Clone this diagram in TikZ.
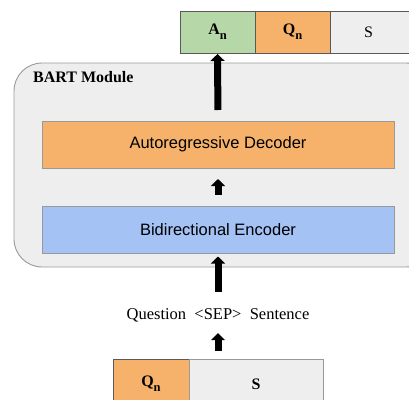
\documentclass[tikz,border=0pt]{standalone}
\usepackage{fontspec}
\setmainfont{Liberation Serif}
\newfontfamily\arialf{Liberation Sans}
\usetikzlibrary{arrows.meta}
\definecolor{cgreen}{HTML}{B6D7A8}
\definecolor{corange}{HTML}{F6B26B}
\definecolor{cgray}{HTML}{EEEEEE}
\definecolor{cblue}{HTML}{A4C2F4}
\definecolor{cdark}{HTML}{595959}
\definecolor{cmid}{HTML}{999999}
\newcommand{\subn}{\raisebox{-5pt}{\fontsize{12.5}{14}\selectfont n}}
\begin{document}
\begin{tikzpicture}[x=1pt,y=-1pt,
  cell/.style={draw=cdark, line width=0.9pt, rectangle, inner sep=0pt, outer sep=0pt, anchor=north west, font=\fontsize{16}{18}\selectfont\bfseries},
  module/.style={draw=cmid, line width=0.9pt, fill=cgray, rounded corners=28pt, rectangle, inner sep=0pt, outer sep=0pt, anchor=north west, minimum width=420pt, minimum height=204pt},
  layer/.style={draw=cmid, line width=0.9pt, rectangle, inner sep=0pt, outer sep=0pt, minimum width=352pt, minimum height=47pt, font=\arialf\fontsize{16.5}{18}\selectfont},
  bigarrow/.style={line width=7pt, -{Triangle[width=14pt,length=7pt]}}
]
\useasboundingbox (0,0) rectangle (409,399);
% top output boxes
\node[cell, fill=cgreen, minimum width=75pt, minimum height=42pt] (An) at (180,11) {A\subn};
\node[cell, fill=corange, minimum width=75pt, minimum height=42pt] (Qt) at (255,11) {Q\subn};
\node[cell, fill=cgray, minimum width=80pt, minimum height=42pt, font=\fontsize{16}{18}\selectfont] (St) at (330,11) {\hspace*{-1pt}S\hspace*{2pt}};
% module
\node[module] (mod) at (14,63) {};
\node[anchor=base west, inner sep=0pt, font=\fontsize{16}{18}\selectfont\bfseries] (title) at (33,82.5) {BART Module};
\node[layer, fill=corange] (dec) at (218,144.5) {Autoregressive Decoder};
\node[layer, fill=cblue] (enc) at (218,230) {Bidirectional Encoder};
% input text
\node[anchor=base, inner sep=0pt, text height=11pt, text depth=3.5pt, font=\fontsize{16.5}{18}\selectfont] (q) at (218,319) {Question\ \ {<}SEP{>}\ \ Sentence};
% bottom input boxes
\node[cell, fill=corange, minimum width=76pt, minimum height=50pt] (Qb) at (113,359) {\raisebox{-3pt}{Q\subn}};
\node[cell, draw=cmid, fill=cgray, minimum width=134pt, minimum height=50pt] (Sb) at (189,359) {\raisebox{-3pt}{S}};
% arrows
\draw[bigarrow, shorten <=11pt, shorten >=1pt] (dec.north) -- (An.south);
\draw[bigarrow, shorten <=12pt, shorten >=11pt] (enc.north) -- (dec.south);
\draw[bigarrow, shorten <=16pt, shorten >=3pt] (q.north) -- (enc.south);
\draw[bigarrow, shorten <=8pt, shorten >=10.5pt] (q.south |- Sb.north) -- (q.south);
\end{tikzpicture}
\end{document}
